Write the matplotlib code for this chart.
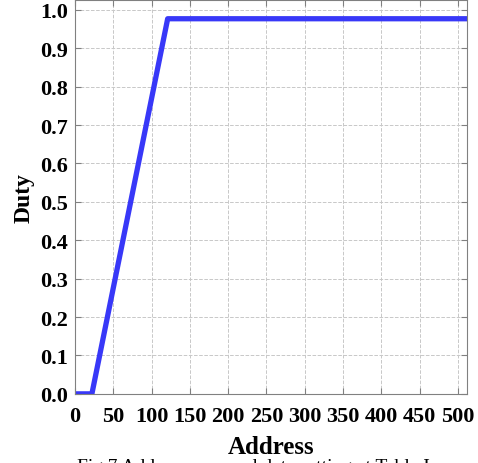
import matplotlib.pyplot as plt

# duty curve: flat at 0, linear ramp, then saturates
address = [0, 22, 121, 512]
duty = [0.0, 0.0, 0.977, 0.977]

xticks = [0, 50, 100, 150, 200, 250, 300, 350, 400, 450, 500]
yticks = [0.0, 0.1, 0.2, 0.3, 0.4, 0.5, 0.6, 0.7, 0.8, 0.9, 1.0]

plt.rcParams['font.family'] = ['Liberation Serif', 'DejaVu Serif']
plt.rcParams['font.weight'] = 'bold'

fig = plt.figure(figsize=(4.78, 4.64), dpi=100)
ax = fig.add_axes([0.157, 0.149, 0.820, 0.849])

ax.plot(address, duty, color='#3838f8', linewidth=3.8, solid_capstyle='butt')

ax.set_xlim(0, 512)
ax.set_ylim(0, 1.026)
ax.set_xticks(xticks)
ax.set_yticks(yticks)
ax.set_yticklabels(['%.1f' % v for v in yticks])
ax.tick_params(direction='in', top=True, right=True, color='#808080',
               labelsize=16, length=4)
ax.tick_params(axis='x', pad=9)
ax.tick_params(axis='y', pad=5)
for lab in ax.get_xticklabels() + ax.get_yticklabels():
    lab.set_fontweight('bold')
for sp in ax.spines.values():
    sp.set_color('#808080')
ax.grid(True, linestyle='--', color='#c8c8c8', linewidth=0.7)

ax.set_xlabel('Address', fontsize=18, fontweight='bold', labelpad=6)
ax.set_ylabel('Duty', fontsize=17, fontweight='bold', labelpad=4)

fig.text(0.53, -0.025, 'Fig.7 Address map and data setting at Table I',
         ha='center', va='bottom', fontsize=14, fontweight='normal')

fig.savefig('out.png', dpi=100)
